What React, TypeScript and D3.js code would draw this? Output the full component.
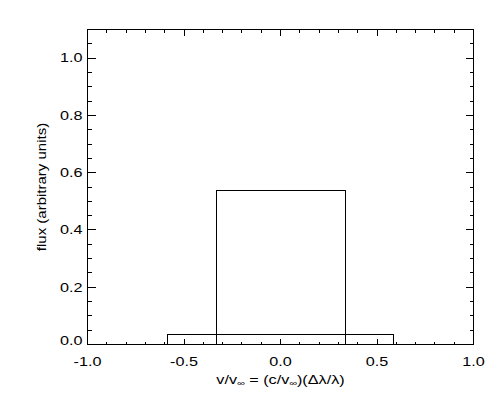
import React from "react";
import * as d3 from "d3";

const boxLeft = [-0.587, -0.33];
const boxRight = [0.587, 0.335];
const boxHeight = [0.036, 0.538];

const xMajorTicks = [-1.0, -0.5, 0.0, 0.5, 1.0];
const xTickLabels = ["-1.0", "-0.5", "0.0", "0.5", "1.0"];
const yMajorTicks = [0.0, 0.2, 0.4, 0.6, 0.8, 1.0];
const yTickLabels = ["0.0", "0.2", "0.4", "0.6", "0.8", "1.0"];
const xDomain = [-1, 1];
const yDomain = [0, 1.1];

const W = 501;
const H = 401;
const L = 87.5, R = 473.5, T = 29.5, B = 344.5;
const SX = 1.35;
const FONT = "'Liberation Sans', Arial, Helvetica, sans-serif";

const snap = (v: number) => Math.round(v - 0.5) + 0.5;

export default function App() {
  const x = d3.scaleLinear().domain(xDomain).range([L, R]);
  const y = d3.scaleLinear().domain(yDomain).range([B, T]);

  const xMinor = d3.range(-10, 11).map((i) => i / 10);
  const yMinor = d3.range(0, 23).map((i) => i / 20).filter((v) => v <= 1.1 + 1e-9);

  const isMajor = (v: number, arr: number[]) => arr.some((a) => Math.abs(a - v) < 1e-9);

  const tickLines: JSX.Element[] = [];
  xMinor.forEach((v, i) => {
    const px = snap(x(v));
    const len = isMajor(v, xMajorTicks) ? 6 : 3;
    tickLines.push(<line key={"xb" + i} x1={px} x2={px} y1={B} y2={B - len} />);
    tickLines.push(<line key={"xt" + i} x1={px} x2={px} y1={T} y2={T + len} />);
  });
  yMinor.forEach((v, i) => {
    const py = snap(y(v));
    const len = isMajor(v, yMajorTicks) ? 8 : 4;
    tickLines.push(<line key={"yl" + i} x1={L} x2={L + len} y1={py} y2={py} />);
    tickLines.push(<line key={"yr" + i} x1={R} x2={R - len} y1={py} y2={py} />);
  });

  const labelH = 9;

  return (
    <svg
      width={W}
      height={H}
      style={{ position: "absolute", left: 0, top: 0, background: "#fff" }}
    >
      <rect x={0} y={0} width={W} height={H} fill="#fff" />
      <g stroke="#000" strokeWidth={1} fill="none" shapeRendering="crispEdges">
        <rect x={L} y={T} width={R - L} height={B - T} />
        {tickLines}
        {boxLeft.map((l, i) => {
          const x0 = snap(x(l));
          const x1 = snap(x(boxRight[i]));
          const y0 = snap(y(boxHeight[i]));
          return <rect key={"box" + i} x={x0} y={y0} width={x1 - x0} height={B - y0} />;
        })}
      </g>
      <g fontFamily={FONT} fontSize={12} fill="#000">
        {xMajorTicks.map((v, i) => (
          <text
            key={"xl" + i}
            textAnchor="middle"
            transform={`translate(${x(v)},${365.5}) scale(${SX},1)`}
          >
            {xTickLabels[i]}
          </text>
        ))}
        {yMajorTicks.map((v, i) => {
          const c = Math.min(Math.max(y(v), T + labelH / 2), B - labelH / 2 + 1);
          return (
            <text
              key={"yl" + i}
              textAnchor="end"
              transform={`translate(${82.5},${c + 4.3}) scale(${SX},1)`}
            >
              {yTickLabels[i]}
            </text>
          );
        })}
        <text textAnchor="middle" transform={`translate(${(L + R) / 2},${384}) scale(${SX},1)`}>
          v/v<tspan fontSize={8} dy={2}>∞</tspan>
          <tspan dy={-2}> = (c/v</tspan>
          <tspan fontSize={8} dy={2}>∞</tspan>
          <tspan dy={-2}>)(Δλ/λ)</tspan>
        </text>
        <text
          textAnchor="middle"
          transform={`translate(${45.5},${(T + B) / 2}) rotate(-90) scale(${SX - 0.1},1)`}
        >
          flux (arbitrary units)
        </text>
      </g>
    </svg>
  );
}
